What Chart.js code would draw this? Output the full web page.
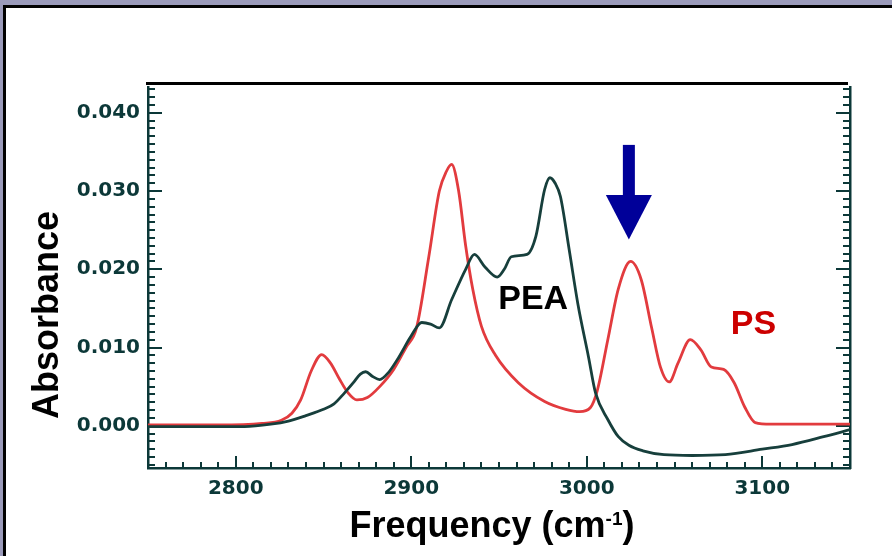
<!DOCTYPE html>
<html><head><meta charset="utf-8">
<script src="https://cdn.jsdelivr.net/npm/chart.js@4.4.1/dist/chart.umd.min.js"></script>
<style>
html,body{margin:0;padding:0;background:#fff;width:892px;height:556px;overflow:hidden;}
canvas{position:absolute;left:0;top:0;}
#band{position:absolute;left:0;top:0;width:892px;height:5px;background:#9a9aba;}
#bandL{position:absolute;left:0;top:0;width:3px;height:556px;background:#9a9aba;}
#bTop{position:absolute;left:3px;top:5px;width:889px;height:3px;background:#000;}
#bLeft{position:absolute;left:3px;top:5px;width:3px;height:551px;background:#000;}
#topline{position:absolute;left:146px;top:82px;width:702px;height:3px;background:#000;}
</style></head>
<body>
<canvas id="c" width="892" height="556"></canvas>
<div id="band"></div><div id="bandL"></div><div id="bTop"></div><div id="bLeft"></div><div id="topline"></div>
<script>
// ---- data ----
const psFreq = [2750,2790,2815,2826,2832,2837,2843,2849,2854,2859,2864,2869,2875,2882,2890,2897,2903,2910,2916,2920,2923,2927,2931,2935,2940,2948,2961,2976,2988,2996,3002,3006,3012,3018,3025,3031,3037,3042,3047,3052,3059,3065,3071,3078,3084,3090,3096,3105,3150];
const psAbs  = [0.0001,0.0001,0.0003,0.0007,0.0016,0.0033,0.0070,0.0091,0.0080,0.0060,0.0042,0.0033,0.0036,0.0050,0.0072,0.0100,0.0125,0.0216,0.0300,0.0325,0.0334,0.0300,0.0230,0.0175,0.0127,0.0090,0.0055,0.0031,0.0021,0.0018,0.0023,0.0045,0.0110,0.0175,0.0210,0.0187,0.0125,0.0075,0.0056,0.0080,0.0110,0.0097,0.0075,0.0072,0.0055,0.0024,0.0004,0.0002,0.0002];
const peaFreq = [2750,2805,2820,2830,2840,2850,2856,2862,2867,2871,2874,2878,2882,2887,2893,2900,2906,2911,2916,2923,2931,2936,2942,2949,2953,2957,2966,2971,2976,2979,2982,2985,2990,2995,3001,3005,3012,3018,3024,3032,3044,3060,3079,3100,3117,3135,3150];
const peaAbs  = [-0.0001,-0.0001,0.0002,0.0006,0.0013,0.0021,0.0028,0.0042,0.0055,0.0066,0.0069,0.0063,0.0059,0.0068,0.0088,0.0115,0.0132,0.0130,0.0125,0.0161,0.0200,0.0219,0.0203,0.0190,0.0200,0.0216,0.0219,0.0242,0.0302,0.0317,0.0310,0.0293,0.0225,0.0155,0.0088,0.0042,0.0008,-0.0014,-0.0025,-0.0032,-0.0037,-0.0038,-0.0037,-0.0030,-0.0024,-0.0014,-0.0005];
const xTicks = [2800,2900,3000,3100];
const xTickLabels = ['2800','2900','3000','3100'];
const yTicks = [0,0.01,0.02,0.03,0.04];
const yTickLabels = ['0.000','0.010','0.020','0.030','0.040'];
const xRange = [2750,3150];
const yRange = [-0.0054,0.0433];
const xMinorStep = 10;
const yMinorStep = 0.001;
const seriesNames = ['PEA','PS'];
const noteLabels = [{text:'PEA', x:2969.5, y:0.0161}, {text:'PS', x:3095, y:0.0129}];
const arrowNote = {x:3024, tip:0.0238, head:0.0295, tail:0.0359};
const xTitle = ['Frequency (cm', '-1', ')'];
const yTitle = 'Absorbance';

// ---- styles ----
const AXIS = '#0c3838';
const PEA_COLOR = '#173f3c';
const PS_COLOR = '#e23b3e';
const NOTE_COLORS = ['#000000', '#cc0000'];
const TICK_FONT = {family:'"DejaVu Sans", sans-serif', weight:'bold', size:20};

const inTicks = {
  id:'inTicks',
  beforeDatasetsDraw(chart){
    const {ctx, chartArea:a, scales:{x, y}} = chart;
    ctx.save();
    ctx.strokeStyle = AXIS; ctx.lineWidth = 2;
    ctx.beginPath();
    const k0 = Math.ceil(yRange[0]/yMinorStep - 1e-9), k1 = Math.floor(yRange[1]/yMinorStep + 1e-9);
    for (let k = k0; k <= k1; k++) {
      const py = Math.round(y.getPixelForValue(k*yMinorStep));
      const len = (k % 10 === 0) ? 14 : 7;
      ctx.moveTo(a.left, py); ctx.lineTo(a.left + len, py);
      ctx.moveTo(a.right, py); ctx.lineTo(a.right - len, py);
    }
    const j0 = Math.ceil(xRange[0]/xMinorStep), j1 = Math.floor(xRange[1]/xMinorStep);
    for (let j = j0; j <= j1; j++) {
      const px = Math.round(x.getPixelForValue(j*xMinorStep));
      const len = (j % 10 === 0) ? 12 : 6;
      ctx.moveTo(px, a.bottom); ctx.lineTo(px, a.bottom - len);
    }
    ctx.stroke();
    ctx.restore();
  },
  afterDraw(chart){
    const {ctx, scales:{x, y}} = chart;
    ctx.save();
    // notes
    ctx.font = 'bold 34px "Liberation Sans", Arial, sans-serif';
    ctx.textAlign = 'center'; ctx.textBaseline = 'middle';
    noteLabels.forEach((n, i) => {
      ctx.fillStyle = NOTE_COLORS[i];
      ctx.fillText(n.text, x.getPixelForValue(n.x), y.getPixelForValue(n.y));
    });
    // arrow
    const ax = x.getPixelForValue(arrowNote.x);
    const yTip = y.getPixelForValue(arrowNote.tip), yHead = y.getPixelForValue(arrowNote.head), yTail = y.getPixelForValue(arrowNote.tail);
    ctx.fillStyle = '#000099';
    ctx.fillRect(ax - 6, yTail, 12, yHead - yTail + 1);
    ctx.beginPath(); ctx.moveTo(ax - 23, yHead); ctx.lineTo(ax + 23, yHead); ctx.lineTo(ax, yTip); ctx.closePath(); ctx.fill();
    // axis titles
    ctx.fillStyle = '#000';
    ctx.textBaseline = 'alphabetic';
    const big = 'bold 36px "Liberation Sans", Arial, sans-serif';
    const sup = 'bold 19px "Liberation Sans", Arial, sans-serif';
    ctx.font = big; const w0 = ctx.measureText(xTitle[0]).width, w2 = ctx.measureText(xTitle[2]).width;
    ctx.font = sup; const w1 = ctx.measureText(xTitle[1]).width;
    const cx = 492, base = 537;
    let sx = cx - (w0 + w1 + w2) / 2;
    ctx.textAlign = 'left';
    ctx.font = big; ctx.fillText(xTitle[0], sx, base);
    ctx.font = sup; ctx.fillText(xTitle[1], sx + w0, base - 12);
    ctx.font = big; ctx.fillText(xTitle[2], sx + w0 + w1, base);
    ctx.translate(58, 315); ctx.rotate(-Math.PI/2);
    ctx.textAlign = 'center'; ctx.font = big;
    ctx.fillText(yTitle, 0, 0);
    ctx.restore();
  }
};

new Chart(document.getElementById('c'), {
  type: 'line',
  data: {
    datasets: [
      {label: seriesNames[0], data: peaFreq.map((f, i) => ({x: f, y: peaAbs[i]})), borderColor: PEA_COLOR, borderWidth: 2.8, pointRadius: 0, cubicInterpolationMode: 'monotone', fill: false},
      {label: seriesNames[1], data: psFreq.map((f, i) => ({x: f, y: psAbs[i]})), borderColor: PS_COLOR, borderWidth: 2.8, pointRadius: 0, cubicInterpolationMode: 'monotone', fill: false}
    ]
  },
  options: {
    responsive: false, animation: false, devicePixelRatio: 1,
    layout: {padding: {top: 87, left: 0, right: 0, bottom: 0}},
    plugins: {legend: {display: false}, tooltip: {enabled: false}},
    scales: {
      x: {
        type: 'linear', position: 'bottom', min: xRange[0], max: xRange[1],
        afterBuildTicks: s => { s.ticks = xTicks.map(v => ({value: v})); },
        afterFit: s => { s.height = 88; },
        ticks: {callback: v => xTickLabels[xTicks.indexOf(v)], font: TICK_FONT, color: AXIS, padding: 9, maxRotation: 0, autoSkip: false},
        grid: {display: false, drawTicks: false},
        border: {display: true, color: AXIS, width: 2.5}
      },
      y: {
        type: 'linear', position: 'left', min: yRange[0], max: yRange[1],
        afterBuildTicks: s => { s.ticks = yTicks.map(v => ({value: v})); },
        afterFit: s => { s.width = 148; },
        ticks: {callback: v => yTickLabels[yTicks.indexOf(v)], font: TICK_FONT, color: AXIS, padding: 8, autoSkip: false},
        grid: {display: false, drawTicks: false},
        border: {display: true, color: AXIS, width: 2.5}
      },
      y2: {
        type: 'linear', position: 'right', min: yRange[0], max: yRange[1],
        afterFit: s => { s.width = 42; },
        ticks: {display: false},
        grid: {display: false, drawTicks: false},
        border: {display: true, color: AXIS, width: 2.5}
      }
    }
  },
  plugins: [inTicks]
});
</script>
</body></html>
